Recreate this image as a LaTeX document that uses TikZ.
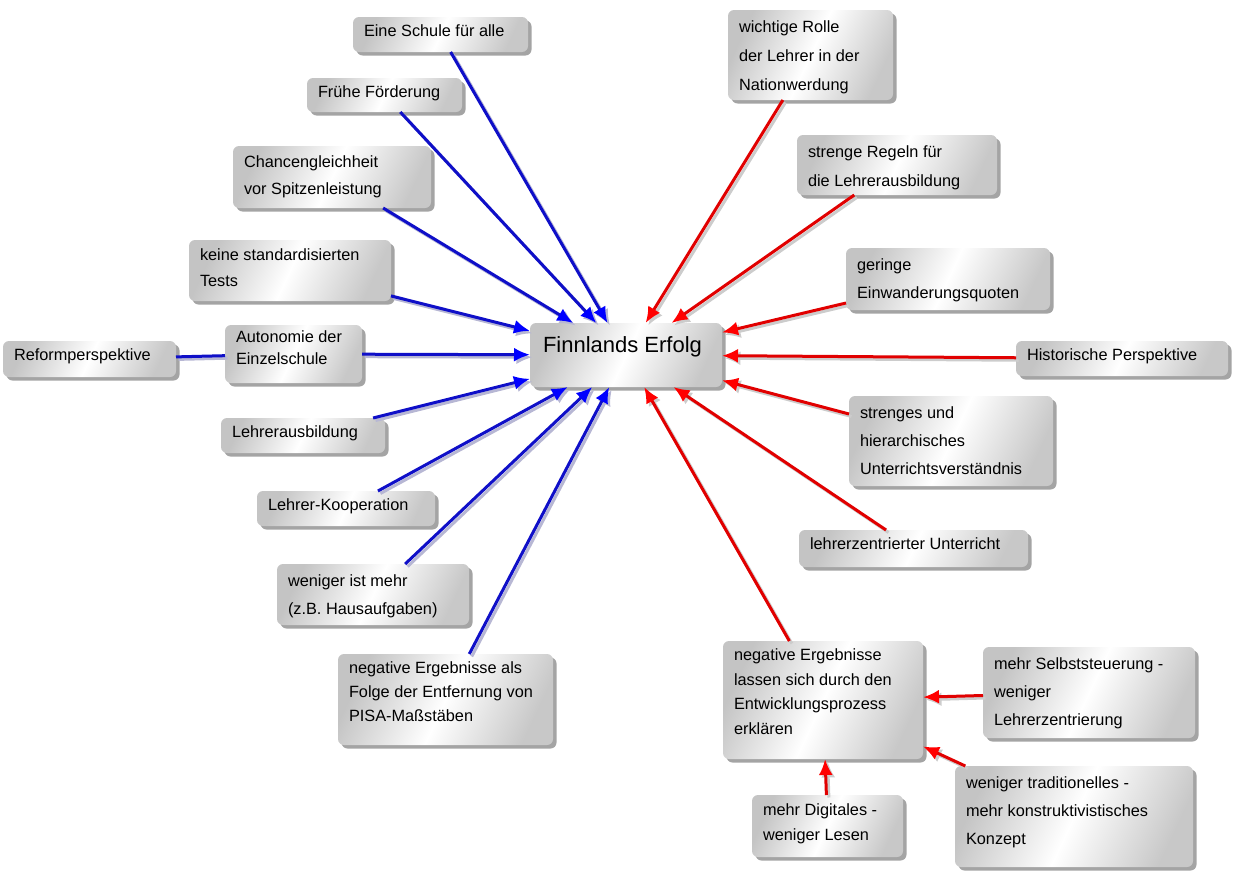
\documentclass[tikz,border=0pt]{standalone}
\usepackage{fontspec}
\setmainfont{Liberation Sans}
\usetikzlibrary{shadows,arrows.meta}
\definecolor{lblue}{RGB}{15,15,200}
\definecolor{tblue}{RGB}{0,0,255}
\definecolor{lred}{RGB}{225,0,0}
\definecolor{tred}{RGB}{255,0,0}
\definecolor{boxl}{RGB}{196,196,196}
\definecolor{boxr}{RGB}{200,200,200}
\newcommand\bxtext[4]{\parbox[c][#2pt][t]{#1pt}{\fontsize{16.3pt}{#3pt}\selectfont\raggedright\leftskip=11pt\vspace*{3pt}\rule{0pt}{0.68\baselineskip}#4}}
\newcommand\mynode[7]{\node[bx, minimum width=#4pt, minimum height=#5pt] (#1) at (#2,#3) {\bxtext{#4}{#5}{#6}{#7}};}
\tikzset{
  bx/.style={rounded corners=6pt, inner sep=0pt, outer sep=0pt,
    left color=boxl, right color=boxr, middle color=white, shading angle=65,
    drop shadow={shadow xshift=3.5pt, shadow yshift=-3.5pt, fill=black!42, opacity=0.85}},
  lnk/.style={line width=3pt},
  bshadow/.style={lnk, draw=blue!25!gray!45, transform canvas={shift={(2.5pt,-2.5pt)}}},
  rshadow/.style={lnk, draw=gray!40, transform canvas={shift={(2.5pt,-2.5pt)}}},
  barrow/.style={lnk, draw=lblue, -{Latex[length=16pt,width=14pt,color=tblue]}},
  rarrow/.style={lnk, draw=lred, -{Latex[length=16pt,width=14pt,color=tred]}},
  bshtip/.style={bshadow, -{Latex[length=16pt,width=14pt]}},
  rshtip/.style={rshadow, -{Latex[length=16pt,width=14pt]}},
}
\begin{document}
\begin{tikzpicture}[x=1pt,y=-1pt]
\useasboundingbox (0,0) rectangle (1239,878);
% left nodes
\mynode{n1}{440.5}{34.5}{175}{35}{24}{Eine Schule für alle}
\mynode{n2}{384.5}{95}{155}{34}{24}{Frühe Förderung}
\mynode{n3}{332}{177}{198}{62}{27}{Chancengleichheit\\vor Spitzenleistung}
\mynode{n4}{290}{270.5}{202}{61}{26}{keine standardisierten\\Tests}
\mynode{n5}{89.5}{359}{173}{36}{24}{Reformperspektive}
\mynode{n6}{293.5}{354}{137}{58}{22}{Autonomie der\\Einzelschule}
\mynode{n7}{303}{435.5}{164}{35}{24}{Lehrerausbildung}
\mynode{n8}{346}{508.5}{178}{35}{24}{Lehrer-Kooperation}
\mynode{n9}{373}{594.5}{192}{61}{28}{weniger ist mehr\\(z.B. Hausaufgaben)}
\mynode{n10}{445.5}{699.5}{215}{91}{24}{negative Ergebnisse als\\Folge der Entfernung von\\PISA-Maßstäben}
% center
\node[bx, minimum width=192pt, minimum height=64pt] (c) at (626,355)
  {\parbox[c][64pt][t]{192pt}{\fontsize{22pt}{26pt}\selectfont\leftskip=13pt\rule{0pt}{29pt}Finnlands Erfolg}};
% right nodes
\mynode{r1}{810.5}{55}{165}{90}{29}{wichtige Rolle\\der Lehrer in der\\Nationwerdung}
\mynode{r2}{897}{165}{200}{60}{29}{strenge Regeln für\\die Lehrerausbildung}
\mynode{r3}{948}{279}{204}{62}{28}{geringe\\Einwanderungsquoten}
\mynode{r4}{1122}{358.5}{212}{35}{24}{Historische Perspektive}
\mynode{r5}{951}{441}{204}{90}{28}{strenges und\\hierarchisches\\Unterrichtsverständnis}
\mynode{r6}{913.5}{548.5}{229}{37}{24}{lehrerzentrierter Unterricht}
\mynode{r7}{823}{700}{200}{118}{24.5}{negative Ergebnisse\\lassen sich durch den\\Entwicklungsprozess\\erklären}
\mynode{r8}{1089}{692.5}{212}{91}{28}{mehr Selbststeuerung -\\weniger\\Lehrerzentrierung}
\mynode{r9}{827.5}{826}{151}{62}{25}{mehr Digitales -\\weniger Lesen}
\mynode{r10}{1074}{816.5}{238}{101}{28}{weniger traditionelles -\\mehr konstruktivistisches\\Konzept}
% connectors
\draw[bshadow] (n5) -- (n6);
\draw[lnk, draw=lblue] (n5) -- (n6);
\foreach \s in {n1,n2,n3,n4,n6,n7,n8,n9,n10}{
  \draw[bshtip] (\s) -- (c);
  \draw[barrow] (\s) -- (c);
}
\foreach \s/\t in {r1/c,r2/c,r3/c,r4/c,r5/c,r6/c,r7/c,r8/r7,r9/r7,r10/r7}{
  \draw[rshtip] (\s) -- (\t);
  \draw[rarrow] (\s) -- (\t);
}
\end{tikzpicture}
\end{document}
